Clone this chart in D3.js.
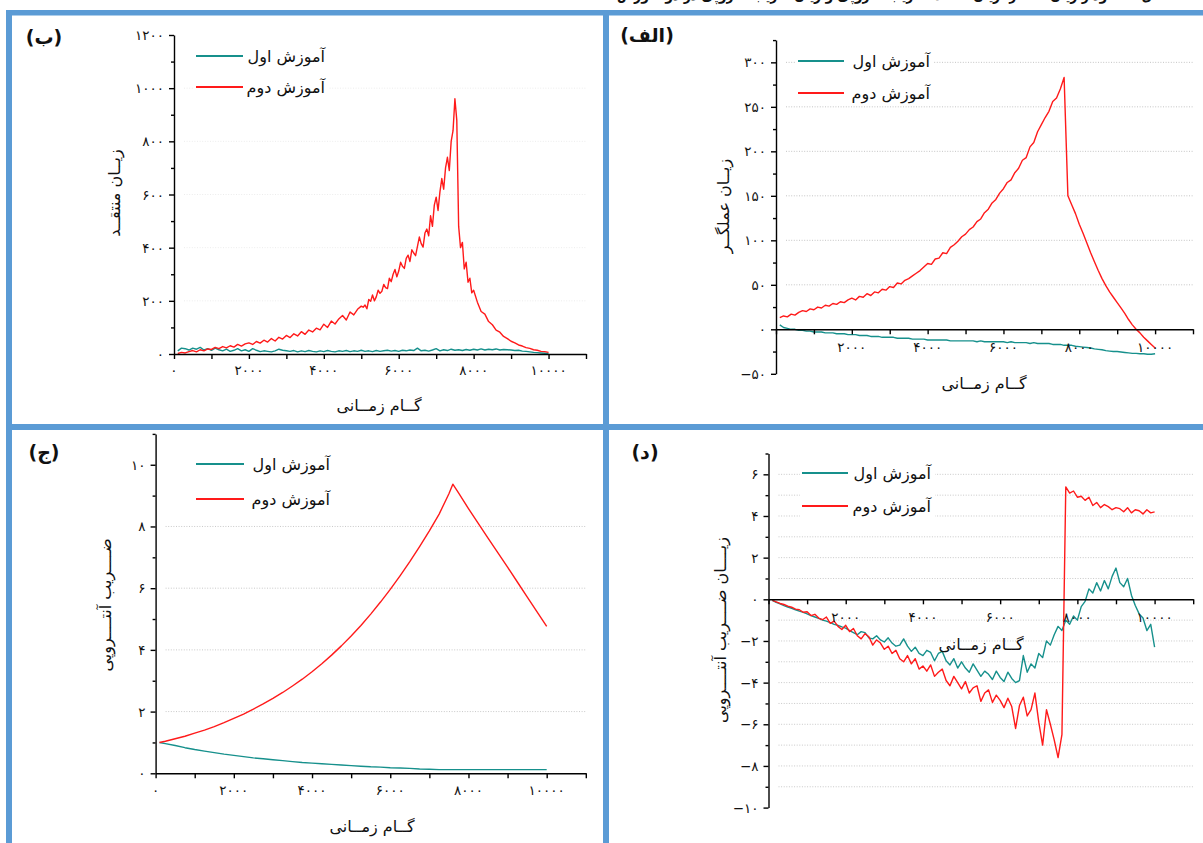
<!DOCTYPE html>
<html><head><meta charset="utf-8">
<script src="https://cdn.jsdelivr.net/npm/d3@7"></script>
<style>
html,body{margin:0;padding:0;background:#fff;}
svg text{font-family:"DejaVu Sans",sans-serif;fill:#111;}
</style></head><body>
<svg id="c" width="1203" height="843"></svg>
<script>
// ---------------- DATA ----------------
const seriesNames = ["آموزش اول", "آموزش دوم"];
const xTickValues = [0, 2000, 4000, 6000, 8000, 10000];
const stepsNoisy = d3.range(100, 10001, 100);
const stepsCritic2 = d3.range(100, 5001, 100).concat(d3.range(5050, 8001, 50), d3.range(8100, 10001, 100));

// (ب) critic loss
const criticLoss1 = [
 12,22,20,15,22,18,25,15,20,14,
 22,16,12,18,10,14,20,12,16,10,
 20,14,9,12,10,8,12,18,14,12,
 10,13,8,12,9,13,10,8,12,9,
 13,10,8,12,10,13,9,12,10,14,
 10,12,9,13,10,12,14,11,13,10,
 14,12,15,13,22,12,14,11,15,20,
 12,16,13,18,14,16,13,17,14,18,
 15,19,15,18,16,19,15,17,16,15,
 13,14,11,10,8,6,5,4,3,2];
const criticLoss2 = [
 2,6,4,9,13,8,16,12,19,17,
 25,20,28,23,31,26,36,30,38,42,
 36,47,41,52,45,58,49,63,56,70,
 62,76,68,84,74,90,83,97,91,112,
 100,124,113,132,145,128,158,147,168,180,
 // 5050 .. 8000 every 50
 176,184,170,205,198,222,200,215,240,228,
 236,262,250,246,285,272,300,318,290,312,
 345,330,322,360,372,348,392,380,370,405,
 440,415,402,455,470,445,520,480,560,590,
 540,610,660,620,700,740,690,800,840,960,
 880,480,400,420,320,345,270,285,230,240,
 // 8100 .. 10000
 195,160,150,122,110,90,82,66,58,48,
 42,34,30,24,21,16,14,10,9,6];

// (الف) actor loss
const actorLoss1 = [
 5,2,1,0,0,-1,-1,-2,-2,-3,
 -3,-3,-4,-4,-4,-5,-5,-5,-6,-6,
 -6,-7,-7,-7,-8,-8,-8,-9,-9,-9,
 -9,-10,-10,-10,-10,-11,-11,-11,-11,-12,
 -12,-12,-12,-12,-12,-13,-13,-13,-13,-13,
 -13,-13,-14,-13,-14,-14,-14,-14,-14,-14,
 -15,-14,-15,-15,-15,-15,-16,-15,-16,-16,
 -16,-16,-17,-17,-17,-18,-18,-18,-19,-19.5,
 -20,-20.5,-21,-22,-22.5,-23,-24,-24.5,-25,-25,
 -25.5,-26,-26.5,-27,-27,-27.5,-27.5,-28,-28,-27.5];
const actorLoss2 = [
 13,15,14,17,16,19,21,20,23,22,
 25,24,27,26,29,28,31,30,33,35,
 33,37,36,40,38,42,41,45,44,48,
 47,52,51,55,57,60,63,66,70,74,
 73,79,80,86,85,92,95,99,104,107,
 112,115,121,124,131,135,142,146,153,158,
 165,168,176,181,190,193,205,210,222,230,
 238,245,256,260,270,283,150,140,130,118,
 108,97,86,76,66,57,49,42,36,30,
 24,18,11,5,0,-4,-9,-13,-17,-21];

// (ج) entropy coefficient
const stepsEntropy = [100,250,500,750,1000,1250,1500,1750,2000,2250,2500,2750,3000,3250,3500,3750,
 4000,4250,4500,4750,5000,5250,5500,5750,6000,6250,6500,6750,7000,7250,7500,7600,7750,
 8000,8250,8500,8750,9000,9250,9500,9750,10000];
const entropyCoef1 = [1.00,0.96,0.90,0.83,0.77,0.72,0.67,0.62,0.58,0.54,0.50,0.47,0.44,0.41,0.38,0.35,
 0.33,0.31,0.29,0.27,0.25,0.23,0.21,0.20,0.18,0.17,0.16,0.14,0.13,0.12,0.12,0.12,0.12,
 0.12,0.12,0.12,0.12,0.12,0.12,0.12,0.12,0.12];
const entropyCoef2 = [1.00,1.04,1.12,1.20,1.30,1.40,1.51,1.64,1.78,1.92,2.08,2.25,2.43,2.62,2.83,3.05,
 3.29,3.55,3.83,4.13,4.45,4.79,5.16,5.55,5.96,6.40,6.86,7.35,7.86,8.40,9.06,9.37,9.08,
 8.58,8.10,7.62,7.15,6.68,6.20,5.72,5.24,4.76];

// (د) entropy-coefficient loss
const entropyLoss1 = [
 -0.05,-0.15,-0.22,-0.3,-0.37,-0.43,-0.5,-0.57,-0.63,-0.7,
 -0.78,-0.85,-0.92,-1.0,-1.05,-1.12,-1.2,-1.25,-1.32,-1.38,
 -1.5,-1.6,-1.7,-1.55,-1.6,-1.85,-1.9,-1.75,-1.95,-2.05,
 -1.85,-2.1,-2.25,-2.2,-1.9,-2.25,-2.5,-2.3,-2.6,-2.7,
 -2.45,-2.55,-2.95,-2.6,-2.5,-2.95,-3.15,-2.85,-3.3,-3.0,
 -3.3,-3.5,-3.1,-3.4,-3.7,-3.45,-3.6,-3.85,-3.45,-3.75,
 -3.95,-3.5,-3.8,-4.0,-3.9,-2.7,-3.5,-3.1,-3.3,-2.6,
 -2.8,-2.0,-2.2,-1.7,-1.3,-1.5,-1.0,-1.2,-0.8,-1.0,
 -0.35,-0.1,0.5,0.3,0.8,0.4,0.9,0.5,1.1,1.5,
 0.8,0.6,1.0,0.2,-0.3,-0.7,-0.9,-1.5,-1.2,-2.3];
const entropyLoss2 = [
 -0.05,-0.12,-0.2,-0.25,-0.33,-0.38,-0.47,-0.5,-0.62,-0.6,
 -0.78,-0.72,-0.9,-0.98,-0.85,-1.15,-1.05,-1.3,-1.45,-1.25,
 -1.55,-1.4,-1.75,-1.9,-1.65,-1.8,-2.2,-1.95,-2.1,-2.4,
 -2.25,-2.6,-2.45,-2.85,-3.0,-2.7,-3.1,-2.85,-3.35,-3.2,
 -3.45,-3.15,-3.7,-3.5,-3.35,-3.9,-4.15,-3.7,-4.0,-4.3,
 -3.95,-4.5,-4.25,-4.15,-4.9,-4.5,-4.35,-4.95,-4.6,-4.85,
 -5.2,-4.75,-5.15,-6.2,-5.1,-4.7,-5.6,-5.3,-4.5,-5.9,
 -7.0,-5.3,-6.0,-6.75,-7.6,-6.5,5.4,5.1,5.2,4.9,
 4.95,4.75,4.9,4.5,4.65,4.4,4.55,4.45,4.3,4.4,
 4.35,4.2,4.4,4.15,4.3,4.25,4.1,4.3,4.15,4.2];

// ---------------- DRAWING ----------------
const TEAL = "#16908c", RED = "#ff1a1a", BLUE = "#5b9bd5";
const svg = d3.select("#c");
const faDigits = "۰۱۲۳۴۵۶۷۸۹";
const fa = v => { const s = String(Math.abs(v)).replace(/\d/g, d => faDigits[+d]); return v < 0 ? "−" + s : s; };

// caption at the very top (mostly outside the picture, as in the reference)
svg.append("text").attr("x", 1172).attr("y", 0).attr("text-anchor", "end")
  .attr("font-size", 15).attr("font-weight", "bold")
  .attr("textLength", 555).attr("lengthAdjust", "spacingAndGlyphs")
  .text("شکل ۶- نمودار زیان عملگر، زیان منتقد، ضریب آنتروپی و زیان ضریب آنتروپی در دو آموزش");

const panels = [
 { tag:"(ب)", tagX:44, tagY:37, xr:[174,586], yd:[0,1200], yr:[354,35],
   yMajor:[0,200,400,600,800,1000,1200], yMinor:100, xAxisAt:0, showX0:true, xLabDy:16,
   grid:[200,400,600,800,1000], gridColor:"#ececec",
   xTitle:[379,405], yTitle:[114,193,"زیــان منتقــد"],
   legend:[196,243,56,87,325],
   series:[[stepsNoisy,criticLoss1,TEAL],[stepsCritic2,criticLoss2,RED]] },
 { tag:"(الف)", tagX:647, tagY:35, xr:[776,1193], yd:[-50,325], yr:[373.8,40.1],
   yMajor:[-50,0,50,100,150,200,250,300], yMinor:25, xAxisAt:0, showX0:false, xLabDy:18,
   grid:[50,100,150,200,250,300], gridColor:"#c4c4c4",
   xTitle:[984,383], yTitle:[723,206,"زیــان عملگــر"],
   legend:[798,844,61,93,930],
   series:[[stepsNoisy,actorLoss1,TEAL],[stepsNoisy,actorLoss2,RED]] },
 { tag:"(ج)", tagX:44, tagY:452, xr:[155.6,585.8], yd:[0,11], yr:[773.3,433.9],
   yMajor:[0,2,4,6,8,10], yMinor:1, xAxisAt:0, showX0:true, xLabDy:17,
   grid:[2,4,6,8], gridColor:"#c8c8c8",
   xTitle:[372,826], yTitle:[105,605,"ضــــریب آنتــــروپی"],
   legend:[196,244,464,499,330],
   series:[[stepsEntropy,entropyCoef1,TEAL],[stepsEntropy,entropyCoef2,RED]] },
 { tag:"(د)", tagX:645, tagY:452, xr:[768.5,1193.2], yd:[-10,7], yr:[807.6,453.5],
   yMajor:[-10,-8,-6,-4,-2,0,2,4,6], yMinor:1, xAxisAt:0, showX0:false, xLabDy:18,
   grid:[-9,-8,-7,-6,-5,-4,-3,-2,-1,1,2,3,4,5,6], gridColor:"#c8c8c8",
   xTitle:[981,644], yTitle:[720,630,"زیــــان ضــــریب آنتــــروپی"],
   legend:[802,848,473,506,931],
   series:[[stepsNoisy,entropyLoss1,TEAL],[stepsNoisy,entropyLoss2,RED]] }
];

panels.forEach(p => {
  const g = svg.append("g");
  const x = d3.scaleLinear().domain([0, 11000]).range(p.xr);
  const y = d3.scaleLinear().domain(p.yd).range(p.yr);
  const x0 = x(0), yAx = y(p.xAxisAt);

  // grid
  g.append("g").selectAll("line").data(p.grid).join("line")
    .attr("x1", x0 + 10).attr("x2", p.xr[1]).attr("y1", d => y(d)).attr("y2", d => y(d))
    .attr("stroke", p.gridColor).attr("stroke-width", 1).attr("stroke-dasharray", "1,1.6");

  // legend background
  const [lx1, lx2, ly1, ly2, lr] = p.legend;
  g.append("rect").attr("x", lx1 - 2).attr("y", ly1 - 13).attr("width", lr - lx1 + 6)
    .attr("height", ly2 - ly1 + 26).attr("fill", "#fff");

  // series
  const line = d3.line().x(d => x(d[0])).y(d => y(d[1]));
  p.series.forEach(([st, vals, col]) => {
    g.append("path").datum(st.map((s, i) => [s, vals[i]]))
      .attr("d", line).attr("fill", "none").attr("stroke", col)
      .attr("stroke-width", 1.4).attr("stroke-linejoin", "round");
  });

  // axes: y
  const minorY = d3.range(p.yd[0], p.yd[1] + 1e-9, p.yMinor).filter(v => !p.yMajor.includes(v));
  g.append("g").attr("transform", `translate(${x0},0)`)
    .call(d3.axisLeft(y).tickValues(p.yMajor).tickSize(5).tickSizeOuter(0).tickFormat(""));
  const yMin = g.append("g").attr("transform", `translate(${x0},0)`)
    .call(d3.axisLeft(y).tickValues(minorY).tickSize(3).tickSizeOuter(0).tickFormat(""));
  yMin.select(".domain").remove();
  // axes: x
  const minorX = d3.range(1000, 11001, 2000);
  g.append("g").attr("transform", `translate(0,${yAx})`)
    .call(d3.axisBottom(x).tickValues(xTickValues).tickSize(5).tickSizeOuter(0).tickFormat(""));
  const xMin = g.append("g").attr("transform", `translate(0,${yAx})`)
    .call(d3.axisBottom(x).tickValues(minorX).tickSize(5).tickSizeOuter(0).tickFormat(""));
  xMin.select(".domain").remove();
  g.selectAll(".domain, .tick line").attr("stroke", "#000").attr("stroke-width", 1.4);

  // tick labels
  g.append("g").selectAll("text").data(p.yMajor).join("text")
    .attr("x", x0 - 10).attr("y", d => y(d)).attr("text-anchor", "end")
    .attr("dominant-baseline", "central").attr("font-size", 13.5).attr("direction", "ltr")
    .text(fa);
  g.append("g").selectAll("text").data(xTickValues.filter(v => v !== 0 || p.showX0)).join("text")
    .attr("x", d => x(d)).attr("y", yAx + p.xLabDy).attr("text-anchor", "middle")
    .attr("dominant-baseline", "central").attr("font-size", 13.5).attr("direction", "ltr")
    .text(fa);

  // titles
  g.append("text").attr("x", p.xTitle[0]).attr("y", p.xTitle[1]).attr("text-anchor", "middle")
    .attr("dominant-baseline", "central").attr("font-size", 16).text("گــام زمــانی");
  g.append("text").attr("transform", `translate(${p.yTitle[0]},${p.yTitle[1]}) rotate(-90)`)
    .attr("text-anchor", "middle").attr("dominant-baseline", "central")
    .attr("font-size", 16).text(p.yTitle[2]);

  // legend
  [[ly1, TEAL, seriesNames[0]], [ly2, RED, seriesNames[1]]].forEach(([ly, col, name]) => {
    g.append("line").attr("x1", lx1).attr("x2", lx2).attr("y1", ly).attr("y2", ly)
      .attr("stroke", col).attr("stroke-width", 2);
    g.append("text").attr("x", lr).attr("y", ly).attr("text-anchor", "end")
      .attr("dominant-baseline", "central").attr("font-size", 16).text(name);
  });

  // panel tag
  g.append("text").attr("x", p.tagX).attr("y", p.tagY).attr("text-anchor", "middle")
    .attr("dominant-baseline", "central").attr("font-size", 19).attr("font-weight", "bold")
    .attr("direction", "ltr").text(p.tag);
});

// frames
const frames = [[6,10,1197,5.5],[6,10,6,833],[603,10,6,833],[6,424,1197,6]];
svg.append("g").selectAll("rect").data(frames).join("rect")
  .attr("x", d => d[0]).attr("y", d => d[1]).attr("width", d => d[2]).attr("height", d => d[3])
  .attr("fill", BLUE);
</script>
</body></html>
